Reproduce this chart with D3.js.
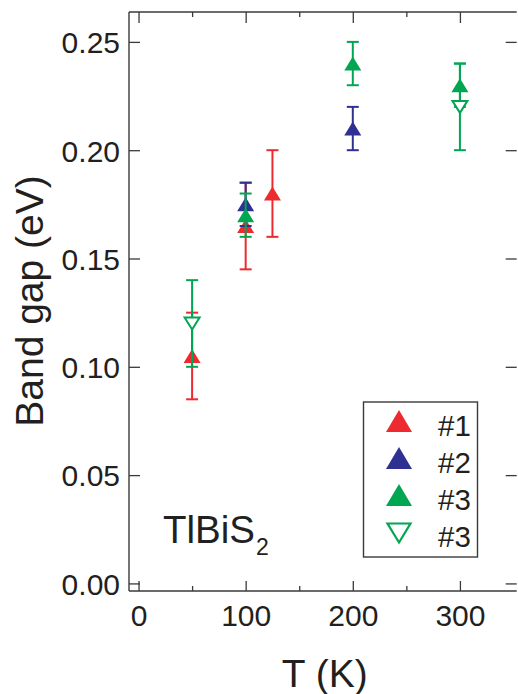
<!DOCTYPE html>
<html>
<head>
<meta charset="utf-8">
<script src="https://cdn.jsdelivr.net/npm/d3@7"></script>
<style>
  body { margin: 0; background: #fff; }
  svg text { font-family: "Liberation Sans", Arial, sans-serif; fill: #231f20; }
</style>
</head>
<body>
<svg width="518" height="694"></svg>
<script>
// sample #1
var temps1 = [50, 100, 125],
    gap1 = [0.105, 0.165, 0.18],
    err1 = [0.02, 0.02, 0.02];
// sample #2
var temps2 = [100, 200],
    gap2 = [0.175, 0.21],
    err2 = [0.01, 0.01];
// sample #3 (filled)
var temps3 = [100, 200, 300],
    gap3 = [0.17, 0.24, 0.23],
    err3 = [0.01, 0.01, 0.01];
// sample #3 (open)
var temps3o = [50, 300],
    gap3o = [0.12, 0.22],
    err3o = [0.02, 0.02];

var xTicks = [0, 100, 200, 300],
    xMinor = [50, 150, 250],
    yTicks = [0, 0.05, 0.10, 0.15, 0.20, 0.25];
var legendLabels = ["#1", "#2", "#3", "#3"];

function main() {
    var red = "#ed2a2f", blue = "#2e3192", green = "#00a651", ink = "#3a3a3a";

    var svg = d3.select("svg");
    var left = 129, right = 516.7, top = 12, bottom = 591;

    var x = d3.scaleLinear().domain([-8.9, 353]).range([left, right]);
    var y = d3.scaleLinear().domain([-0.0035, 0.2638]).range([bottom, top]);

    function styleAxis(g) {
        g.select(".domain").remove();
        g.selectAll("line").attr("stroke", ink).attr("stroke-width", 1.3);
        g.selectAll("text").attr("font-size", "30px").attr("fill", "#231f20");
    }

    // bottom axis with labels
    svg.append("g").attr("transform", "translate(0," + bottom + ")")
        .call(d3.axisBottom(x).tickValues(xTicks).tickSize(-10).tickPadding(14))
        .call(styleAxis);
    svg.append("g").attr("transform", "translate(0," + bottom + ")")
        .call(d3.axisBottom(x).tickValues(xMinor).tickSize(-5).tickFormat(""))
        .call(styleAxis);
    // top axis
    svg.append("g").attr("transform", "translate(0," + top + ")")
        .call(d3.axisTop(x).tickValues(xTicks).tickSize(-11).tickFormat(""))
        .call(styleAxis);
    svg.append("g").attr("transform", "translate(0," + top + ")")
        .call(d3.axisTop(x).tickValues(xMinor).tickSize(-5).tickFormat(""))
        .call(styleAxis);
    // left axis with labels
    svg.append("g").attr("transform", "translate(" + left + ",0)")
        .call(d3.axisLeft(y).tickValues(yTicks).tickSize(-11).tickPadding(9).tickFormat(d3.format(".2f")))
        .call(styleAxis)
        .selectAll("text").attr("dy", "0.36em");
    // right axis
    svg.append("g").attr("transform", "translate(" + right + ",0)")
        .call(d3.axisRight(y).tickValues(yTicks).tickSize(-11).tickFormat(""))
        .call(styleAxis);

    // frame: left, bottom, top (no right line in the original)
    svg.append("line").attr("x1", left).attr("x2", left).attr("y1", top).attr("y2", bottom)
        .attr("stroke", ink).attr("stroke-width", 1.4);
    svg.append("line").attr("x1", left).attr("x2", right).attr("y1", bottom).attr("y2", bottom)
        .attr("stroke", ink).attr("stroke-width", 1.4);
    svg.append("line").attr("x1", left).attr("x2", right).attr("y1", top).attr("y2", top)
        .attr("stroke", ink).attr("stroke-width", 1.4);

    // axis titles
    svg.append("text")
        .attr("x", (left + right) / 2 + 2).attr("y", 687)
        .attr("text-anchor", "middle").attr("font-size", "39px")
        .text("T (K)");
    svg.append("text")
        .attr("transform", "translate(43,301) rotate(-90)")
        .attr("text-anchor", "middle").attr("font-size", "39px")
        .text("Band gap (eV)");

    // compound label
    var lab = svg.append("text").attr("x", 163).attr("y", 543).attr("font-size", "38.5px");
    lab.append("tspan").text("TlBiS");
    lab.append("tspan").attr("font-size", "23px").attr("dy", 12).attr("dx", 1).text("2");

    function upTri(w, h) {
        return "M0," + (-h / 2) + "L" + (w / 2) + "," + (h / 2) + "L" + (-w / 2) + "," + (h / 2) + "Z";
    }
    function downTri(w, h) {
        return "M0," + (h / 2) + "L" + (w / 2) + "," + (-h / 2) + "L" + (-w / 2) + "," + (-h / 2) + "Z";
    }

    function drawSeries(temps, gaps, errs, color, open) {
        var data = temps.map(function(t, i) { return {t: t, v: gaps[i], e: errs[i]}; });
        var g = svg.append("g");
        var eb = g.selectAll(".eb").data(data).enter().append("g")
            .attr("stroke", color).attr("stroke-width", 2);
        eb.append("line")
            .attr("x1", function(d) { return x(d.t); }).attr("x2", function(d) { return x(d.t); })
            .attr("y1", function(d) { return y(d.v - d.e); }).attr("y2", function(d) { return y(d.v + d.e); });
        eb.append("line")
            .attr("x1", function(d) { return x(d.t) - 6; }).attr("x2", function(d) { return x(d.t) + 6; })
            .attr("y1", function(d) { return y(d.v + d.e); }).attr("y2", function(d) { return y(d.v + d.e); });
        eb.append("line")
            .attr("x1", function(d) { return x(d.t) - 6; }).attr("x2", function(d) { return x(d.t) + 6; })
            .attr("y1", function(d) { return y(d.v - d.e); }).attr("y2", function(d) { return y(d.v - d.e); });
        g.selectAll(".pt").data(data).enter().append("path")
            .attr("transform", function(d) { return "translate(" + x(d.t) + "," + y(d.v) + ")"; })
            .attr("d", open ? downTri(15, 12) : upTri(17, 14))
            .attr("fill", open ? "#fff" : color)
            .attr("stroke", open ? color : "none")
            .attr("stroke-width", 2);
    }

    drawSeries(temps1, gap1, err1, red, false);
    drawSeries(temps2, gap2, err2, blue, false);
    drawSeries(temps3, gap3, err3, green, false);
    drawSeries(temps3o, gap3o, err3o, green, true);

    // legend
    var lg = svg.append("g");
    lg.append("rect").attr("x", 363.5).attr("y", 402).attr("width", 114).attr("height", 155)
        .attr("fill", "#fff").attr("stroke", ink).attr("stroke-width", 1.4);
    var legendColors = [red, blue, green, green];
    legendLabels.forEach(function(lbl, i) {
        var cy = 421 + i * 37;
        var open = i === 3;
        lg.append("path")
            .attr("transform", "translate(399," + (open ? cy + 1 : cy) + ")")
            .attr("d", open ? downTri(23, 19) : upTri(26, 22))
            .attr("fill", open ? "#fff" : legendColors[i])
            .attr("stroke", open ? legendColors[i] : "none")
            .attr("stroke-width", 2.2);
        lg.append("text").attr("x", 438).attr("y", cy + 14.5).attr("font-size", "29.5px").text(lbl);
    });
}
main();
</script>
</body>
</html>
